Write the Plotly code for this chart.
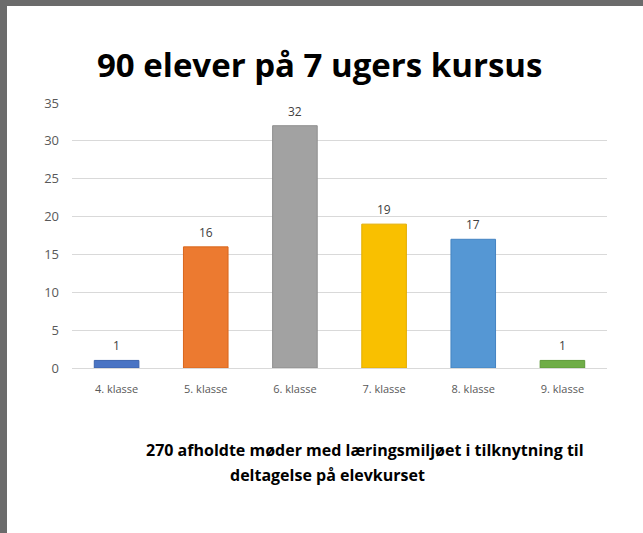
import plotly.graph_objects as go

klasser = ["4. klasse", "5. klasse", "6. klasse", "7. klasse", "8. klasse", "9. klasse"]
elever = [1, 16, 32, 19, 17, 1]
farver = ["#4A74C4", "#EC7A30", "#A2A2A2", "#F9C000", "#5597D4", "#6FAD47"]
kant = ["#3C63AD", "#D9661C", "#8E8E8E", "#E2AC00", "#4584C2", "#5E9A3A"]

titel = "90 elever på 7 ugers kursus"
linje1 = "270 afholdte møder med læringsmiljøet i tilknytning til"
linje2 = "deltagelse på elevkurset"

W, H = 643, 533
ml, mr, mt, mb = 72, 36, 103, 165
font = "Open Sans, sans-serif"

fig = go.Figure(go.Bar(
    x=klasser, y=elever, width=0.5,
    marker=dict(color=farver, line=dict(color=kant, width=1)),
    hoverinfo="skip",
))

pw, ph = W - ml - mr, H - mt - mb
def px_x(p):
    return (p - ml) / pw
def px_y(p):
    return (H - mb - p) / ph

grå = "#6B6B6B"
shapes = [
    dict(type="rect", xref="paper", yref="paper", x0=px_x(0), x1=px_x(7), y0=px_y(H), y1=px_y(0),
         fillcolor=grå, line_width=0, layer="above"),
    dict(type="rect", xref="paper", yref="paper", x0=px_x(0), x1=px_x(W), y0=px_y(6), y1=px_y(0),
         fillcolor=grå, line_width=0, layer="above"),
]

tekst = dict(xref="paper", yref="paper", xanchor="center", yanchor="middle", showarrow=False,
             font=dict(family=font, size=16, color="#000000"))

# dataetiketter over søjlerne
etiketter = [dict(x=k, y=v, text=str(v), xref="x", yref="y", yanchor="bottom", yshift=4,
                  showarrow=False, font=dict(family=font, size=12, color="#404040"))
             for k, v in zip(klasser, elever)]

fig.update_layout(
    width=W, height=H,
    margin=dict(l=ml, r=mr, t=mt, b=mb),
    paper_bgcolor="white", plot_bgcolor="white",
    showlegend=False,
    shapes=shapes,
    annotations=etiketter + [
        dict(text="<b>" + titel + "</b>", x=px_x(319), y=px_y(64),
             **{**tekst, "font": dict(family=font, size=33, color="#000000")}),
        dict(text="<b>" + linje1 + "</b>", x=px_x(365), y=px_y(450), **tekst),
        dict(text="<b>" + linje2 + "</b>", x=px_x(327), y=px_y(475), **tekst),
    ],
    xaxis=dict(showgrid=False, showline=False, ticks="", ticklabelstandoff=13,
               tickfont=dict(family=font, size=11, color="#595959")),
    yaxis=dict(range=[0, 35], dtick=5, showgrid=True, gridcolor="#D9D9D9", gridwidth=1,
               zeroline=True, zerolinecolor="#D9D9D9", zerolinewidth=1, ticks="",
               ticklabelstandoff=12,
               tickfont=dict(family=font, size=13, color="#595959")),
)

fig.write_html("out.html", config={"displayModeBar": False},
               post_script="document.body.style.margin='0';document.body.style.overflow='hidden';")
